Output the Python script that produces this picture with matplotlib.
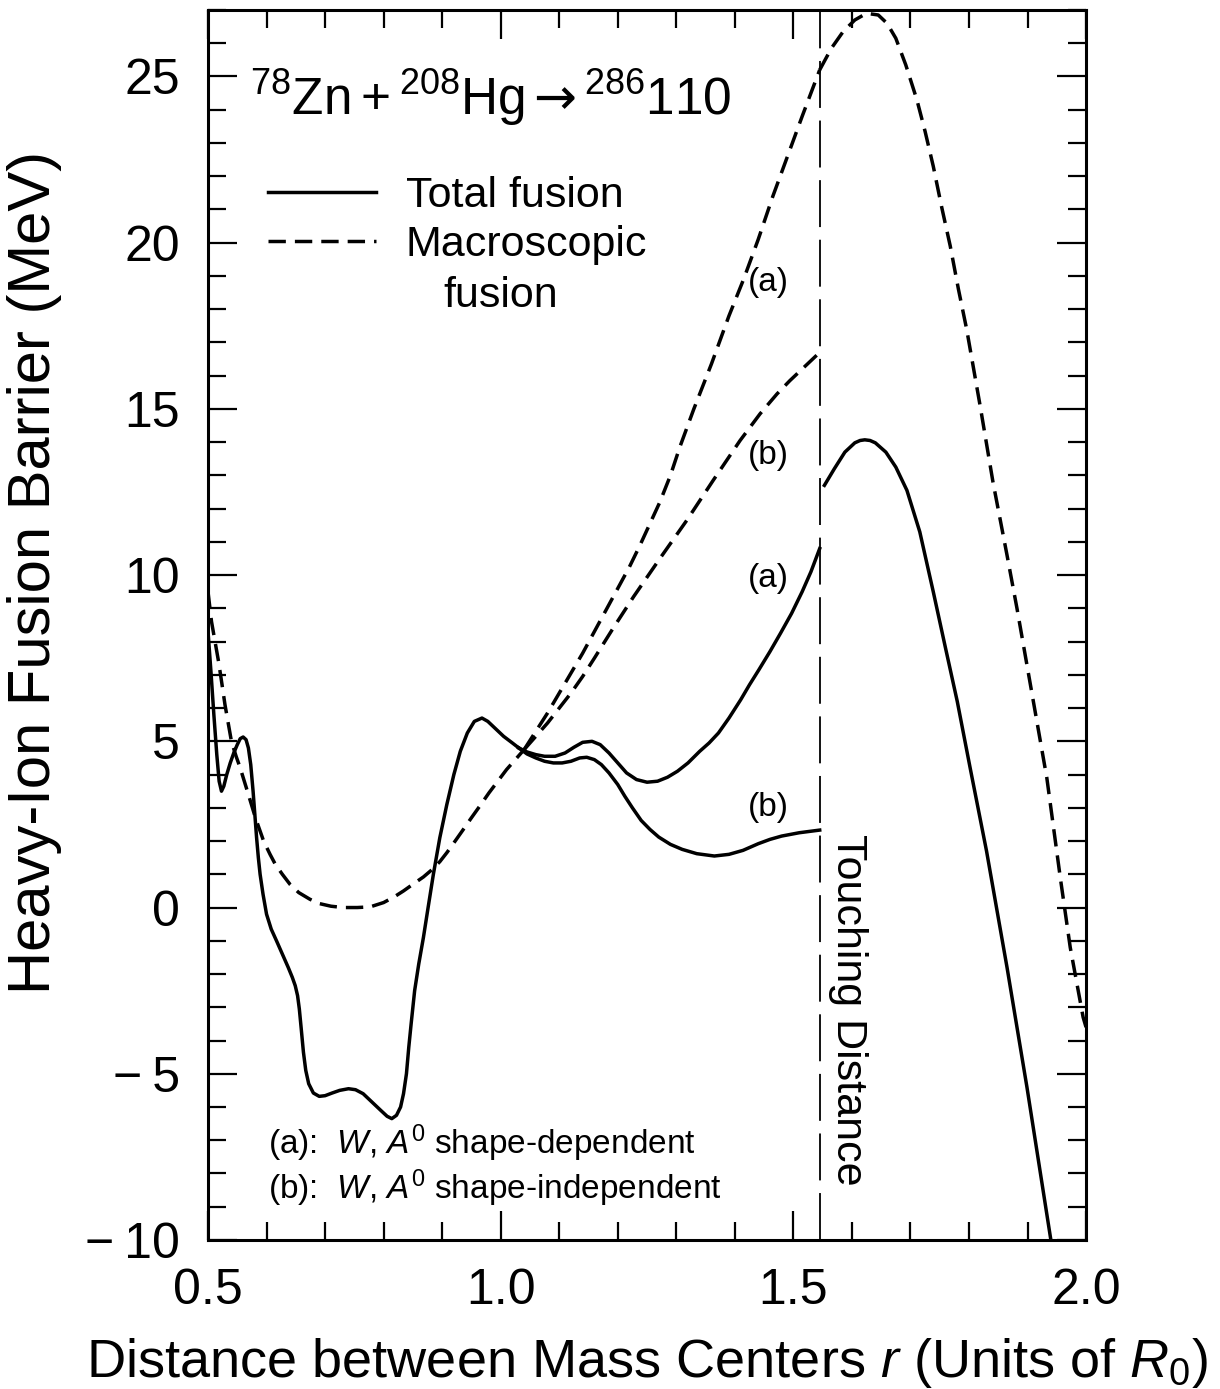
import matplotlib
matplotlib.use("Agg")
import matplotlib.pyplot as plt
from matplotlib.ticker import MultipleLocator, FuncFormatter

plt.rcParams["font.family"] = ["Liberation Sans", "DejaVu Sans"]
plt.rcParams["mathtext.fontset"] = "custom"
plt.rcParams["mathtext.rm"] = "Liberation Sans"
plt.rcParams["mathtext.it"] = "Liberation Sans:italic"
plt.rcParams["mathtext.sf"] = "DejaVu Sans"

# touching distance (units of R0)
r_touch = 1.545

# total fusion, common part (a and b coincide)
tot_x = [0.500, 0.505, 0.510, 0.515, 0.519, 0.523, 0.527, 0.532, 0.538, 0.544,
         0.550, 0.555, 0.560, 0.565, 0.569, 0.573, 0.577, 0.580, 0.583, 0.586,
         0.589, 0.594, 0.600, 0.608, 0.617, 0.627, 0.637, 0.644, 0.649, 0.653,
         0.656, 0.659, 0.663, 0.667, 0.672, 0.680, 0.690, 0.700, 0.712, 0.725,
         0.740, 0.752, 0.765, 0.780, 0.795, 0.806, 0.814, 0.822, 0.829, 0.834,
         0.839, 0.843, 0.847, 0.853, 0.860, 0.868, 0.876, 0.885, 0.896, 0.908,
         0.920, 0.931, 0.943, 0.955, 0.968, 0.978, 0.990, 1.005, 1.020, 1.031]
tot_y = [8.3, 7.1, 5.8, 4.6, 3.8, 3.5, 3.65, 4.0, 4.35, 4.65,
         4.9, 5.08, 5.13, 5.05, 4.8, 4.3, 3.5, 2.8, 2.1, 1.5,
         1.0, 0.4, -0.2, -0.65, -1.0, -1.4, -1.8, -2.1, -2.35, -2.65,
         -3.05, -3.6, -4.35, -4.9, -5.3, -5.58, -5.68, -5.66, -5.58, -5.5,
         -5.45, -5.48, -5.6, -5.85, -6.1, -6.28, -6.35, -6.25, -6.0, -5.6,
         -5.0, -4.2, -3.5, -2.5, -1.7, -0.9, 0.0, 1.0, 2.1, 3.1,
         4.0, 4.7, 5.25, 5.6, 5.7, 5.6, 5.4, 5.15, 4.95, 4.8]

# total fusion (a): W, A0 shape-dependent
tot_a_x = [1.031, 1.045, 1.060, 1.075, 1.093, 1.110, 1.125, 1.140, 1.156, 1.170,
           1.185, 1.200, 1.215, 1.232, 1.250, 1.268, 1.285, 1.302, 1.320, 1.340,
           1.356, 1.372, 1.390, 1.410, 1.425, 1.441, 1.460, 1.478, 1.497, 1.515,
           1.530, 1.545]
tot_a_y = [4.8, 4.68, 4.6, 4.55, 4.55, 4.65, 4.82, 4.97, 5.0, 4.9,
           4.65, 4.35, 4.05, 3.85, 3.77, 3.8, 3.92, 4.1, 4.35, 4.7,
           4.95, 5.25, 5.7, 6.25, 6.7, 7.15, 7.7, 8.25, 8.85, 9.5,
           10.1, 10.8]

# total fusion (b): W, A0 shape-independent
tot_b_x = [1.031, 1.045, 1.060, 1.075, 1.090, 1.105, 1.120, 1.135, 1.147, 1.160,
           1.172, 1.185, 1.200, 1.212, 1.225, 1.240, 1.255, 1.270, 1.290, 1.310,
           1.335, 1.365, 1.390, 1.414, 1.440, 1.460, 1.480, 1.510, 1.545]
tot_b_y = [4.8, 4.62, 4.5, 4.4, 4.35, 4.35, 4.4, 4.5, 4.52, 4.45,
           4.3, 4.05, 3.7, 3.35, 3.0, 2.62, 2.35, 2.12, 1.9, 1.75,
           1.62, 1.55, 1.6, 1.72, 1.92, 2.05, 2.15, 2.25, 2.33]

# total fusion beyond touching
tot_out_x = [1.553, 1.570, 1.588, 1.605, 1.614, 1.622, 1.631, 1.640, 1.658, 1.675,
             1.694, 1.716, 1.739, 1.760, 1.780, 1.802, 1.830, 1.865, 1.899, 1.939,
             1.950]
tot_out_y = [12.7, 13.2, 13.7, 13.98, 14.05, 14.07, 14.05, 13.98, 13.7, 13.25,
             12.55, 11.3, 9.5, 7.8, 6.2, 4.2, 1.7, -1.8, -5.4, -9.9,
             -11.1]

# macroscopic fusion, common part
mac_x = [0.500, 0.506, 0.512, 0.518, 0.524, 0.529, 0.535, 0.540, 0.548, 0.555,
         0.562, 0.569, 0.575, 0.581, 0.588, 0.595, 0.606, 0.615, 0.627, 0.640,
         0.655, 0.674, 0.690, 0.710, 0.731, 0.755, 0.777, 0.800, 0.818, 0.834,
         0.850, 0.868, 0.882, 0.896, 0.908, 0.919, 0.935, 0.950, 0.965, 0.980,
         0.995, 1.010, 1.025, 1.040]
mac_y = [9.5, 8.6, 8.0, 7.4, 6.7, 6.1, 5.5, 5.0, 4.55, 4.2,
         3.8, 3.4, 3.05, 2.7, 2.35, 2.0, 1.6, 1.3, 1.0, 0.7,
         0.45, 0.25, 0.12, 0.04, 0.0, 0.0, 0.02, 0.15, 0.32, 0.5,
         0.7, 0.92, 1.13, 1.38, 1.65, 1.92, 2.32, 2.7, 3.07, 3.45,
         3.8, 4.15, 4.45, 4.75]

mac_a_x = [1.040, 1.060, 1.080, 1.100, 1.120, 1.140, 1.160, 1.180, 1.200, 1.220,
           1.238, 1.255, 1.272, 1.290, 1.306, 1.330, 1.360, 1.390, 1.415, 1.440,
           1.465, 1.490, 1.515, 1.545]
mac_a_y = [4.75, 5.3, 5.85, 6.45, 7.05, 7.65, 8.3, 8.95, 9.6, 10.25,
           10.9, 11.55, 12.2, 13.0, 13.85, 15.0, 16.35, 17.8, 18.9, 20.1,
           21.4, 22.6, 23.8, 25.2]

mac_b_x = [1.040, 1.060, 1.080, 1.100, 1.120, 1.140, 1.160, 1.192, 1.227, 1.272,
           1.318, 1.363, 1.409, 1.443, 1.472, 1.494, 1.515, 1.545]
mac_b_y = [4.75, 5.15, 5.55, 6.0, 6.45, 6.95, 7.5, 8.4, 9.35, 10.5,
           11.65, 12.85, 14.05, 14.85, 15.45, 15.85, 16.2, 16.7]

mac_out_x = [1.545, 1.565, 1.585, 1.605, 1.625, 1.645, 1.660, 1.675, 1.692, 1.711,
             1.725, 1.739, 1.753, 1.768, 1.782, 1.796, 1.819, 1.841, 1.865, 1.882,
             1.910, 1.933, 1.956, 1.973, 1.995, 2.000]
mac_out_y = [25.2, 25.85, 26.35, 26.7, 26.9, 26.85, 26.6, 26.15, 25.35, 24.3,
             23.35, 22.3, 21.1, 19.9, 18.6, 17.4, 15.1, 12.8, 10.6, 9.0,
             6.2, 3.9, 0.9, -1.2, -3.3, -3.6]

LW = 2.5
DASH = (0, (5, 2.6))

fig = plt.figure(figsize=(12.2, 13.89), dpi=100)
ax = fig.add_axes([0.1705, 0.1073, 0.7197, 0.8855])

h_tot, = ax.plot(tot_x, tot_y, color="black", lw=LW, label="Total fusion")
ax.plot(tot_a_x, tot_a_y, color="black", lw=LW)
ax.plot(tot_b_x, tot_b_y, color="black", lw=LW)
ax.plot(tot_out_x, tot_out_y, color="black", lw=LW)

h_mac, = ax.plot(mac_x, mac_y, color="black", lw=LW, ls=DASH, label="Macroscopic")
ax.plot(mac_a_x, mac_a_y, color="black", lw=LW, ls=DASH)
ax.plot(mac_b_x, mac_b_y, color="black", lw=LW, ls=DASH)
ax.plot(mac_out_x, mac_out_y, color="black", lw=LW, ls=DASH)

ax.axvline(r_touch, color="black", lw=1.3, ls=(0, (26, 7)))

ax.set_xlim(0.5, 2.0)
ax.set_ylim(-10, 27)

ax.xaxis.set_major_locator(MultipleLocator(0.5))
ax.xaxis.set_minor_locator(MultipleLocator(0.1))
ax.yaxis.set_major_locator(MultipleLocator(5))
ax.yaxis.set_minor_locator(MultipleLocator(1))
ax.xaxis.set_major_formatter(FuncFormatter(lambda v, p: f"{v:.1f}"))
ax.yaxis.set_major_formatter(FuncFormatter(
    lambda v, p: f"\u2212\u2009{abs(int(round(v)))}" if v < 0 else f"{int(round(v))}"))

ax.tick_params(which="both", direction="in", top=True, right=True, width=1.6)
ax.tick_params(which="major", length=21, labelsize=36, pad=20)
ax.tick_params(which="minor", length=13)
for sp in ax.spines.values():
    sp.set_linewidth(2.2)

ax.set_xlabel(r"Distance between Mass Centers $r$ (Units of $R_0$)", fontsize=39)
ax.set_ylabel("Heavy-Ion Fusion Barrier (MeV)", fontsize=43)
ax.xaxis.set_label_coords(0.5, -0.078)
ax.yaxis.set_label_coords(-0.166, 0.543)

ax.text(0.572, 23.85,
        "$^{78}\\mathrm{Zn}+{}^{208}\\mathrm{Hg}\\,\\mathsf{\u2192}\\,{}^{286}\\mathrm{110}$",
        fontsize=37, ha="left", va="baseline")

ax.legend(handles=[h_tot, h_mac], loc="upper left", bbox_to_anchor=(0.0683, 0.865),
          frameon=False, fontsize=31, handlelength=2.5, handletextpad=0.7,
          labelspacing=0.2, borderpad=0, borderaxespad=0)
ax.text(0.9015, 18.4, "fusion", fontsize=31, ha="left", va="center")

for y, lab in [(18.8, "(a)"), (13.6, "(b)"), (9.9, "(a)"), (3.0, "(b)")]:
    ax.text(1.4226, y, lab, fontsize=24, ha="left", va="center")

ax.text(0.6025, -7.1, r"(a):  $W$, $A^0$ shape-dependent", fontsize=24, va="center")
ax.text(0.6025, -8.43, r"(b):  $W$, $A^0$ shape-independent", fontsize=24, va="center")

ax.text(1.593, 2.2, "Touching Distance", fontsize=31, rotation=-90,
        ha="center", va="top")

fig.savefig("out.png", dpi=100)
